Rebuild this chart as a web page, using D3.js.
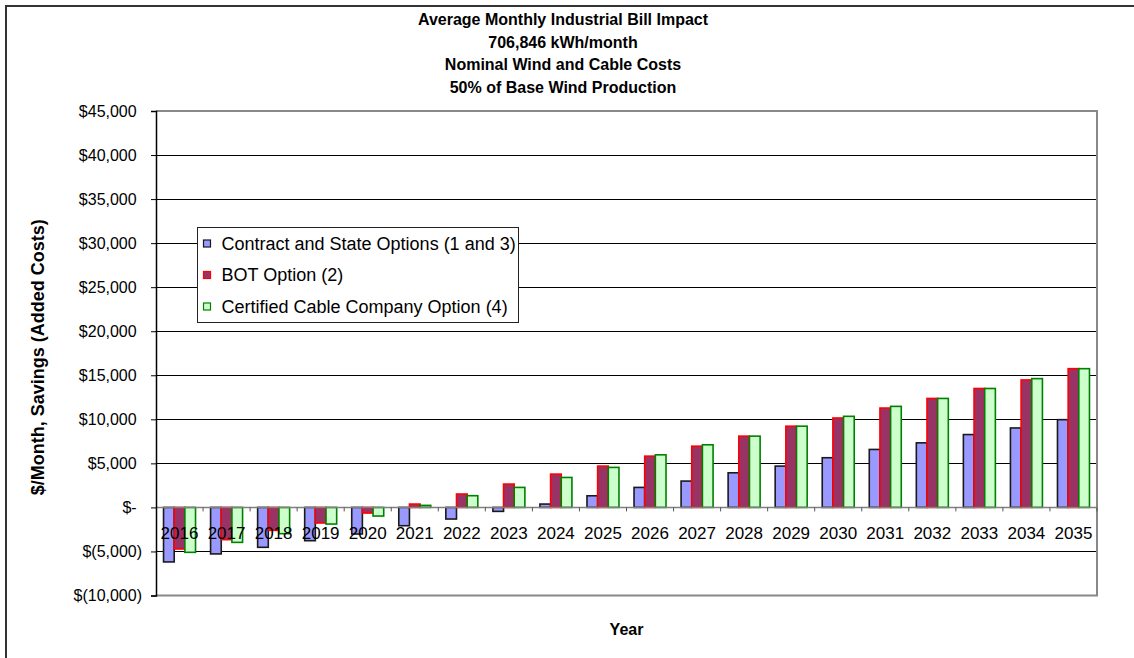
<!DOCTYPE html>
<html>
<head>
<meta charset="utf-8">
<script src="https://cdn.jsdelivr.net/npm/d3@7"></script>
<style>
  body { margin: 0; background: #fff; }
  text { font-family: "Liberation Sans", Arial, sans-serif; }
</style>
</head>
<body>
<div id="chart"></div>
<script>
// Chart data
var years = ["2016","2017","2018","2019","2020","2021","2022","2023","2024","2025",
             "2026","2027","2028","2029","2030","2031","2032","2033","2034","2035"];
var seriesNames = ["Contract and State Options (1 and 3)", "BOT Option (2)", "Certified Cable Company Option (4)"];
var contractState = [-6190,-5280,-4530,-3780,-3020,-2080,-1320,-450,380,1320,
                     2270,2990,3930,4690,5640,6580,7330,8270,9020,9960];
var botOption = [-4720,-3660,-2610,-1770,-640,380,1520,2650,3780,4690,
                 5820,6950,8090,9220,10150,11280,12370,13500,14470,15750];
var cableCompany = [-5100,-3970,-2980,-1890,-980,230,1330,2270,3400,4540,
                    5970,7110,8090,9220,10340,11470,12370,13500,14620,15750];
var yTicks = [-10000,-5000,0,5000,10000,15000,20000,25000,30000,35000,40000,45000];
var titleLines = ["Average Monthly Industrial Bill Impact", "706,846 kWh/month",
                  "Nominal Wind and Cable Costs", "50% of Base Wind Production"];

var fills = ["#9999ff", "#993366", "#ccffcc"];
var strokes = ["#1a1a1a", "#ff0000", "#008000"];
var allSeries = [contractState, botOption, cableCompany];

var width = 1134, height = 658;
var plot = {left: 156, right: 1097, top: 111, bottom: 595.5};

var svg = d3.select("#chart").append("svg")
    .attr("width", width)
    .attr("height", height);

// outer frame (only top and left visible)
svg.append("path")
    .attr("d", "M6,658V6H1134")
    .attr("fill", "none")
    .attr("stroke", "#333")
    .attr("stroke-width", 2);

var x0 = d3.scaleBand()
    .domain(years)
    .range([plot.left, plot.right])
    .paddingInner(0.32)
    .paddingOuter(0.16);

var x1 = d3.scaleBand()
    .domain(d3.range(seriesNames.length))
    .range([0, x0.bandwidth()]);

var y = d3.scaleLinear()
    .domain([-10000, 45000])
    .range([plot.bottom, plot.top]);

// title
svg.append("g").selectAll("text")
    .data(titleLines)
    .enter().append("text")
    .attr("x", 563)
    .attr("y", function (d, i) { return 25 + i * 22.6; })
    .attr("text-anchor", "middle")
    .style("font-size", "16px")
    .style("font-weight", "bold")
    .text(function (d) { return d; });

// gridlines
svg.append("g").selectAll("line")
    .data(yTicks.filter(function (d) { return d !== 0 && d !== -10000 && d !== 45000; }))
    .enter().append("line")
    .attr("x1", plot.left).attr("x2", plot.right)
    .attr("y1", function (d) { return Math.round(y(d)) + 0.5; })
    .attr("y2", function (d) { return Math.round(y(d)) + 0.5; })
    .attr("stroke", "#000")
    .attr("stroke-width", 1);

// plot area border (top, right, bottom)
svg.append("path")
    .attr("d", "M" + plot.left + "," + y(45000) + "H" + plot.right + "V" + y(-10000) + "H" + plot.left)
    .attr("fill", "none")
    .attr("stroke", "#888")
    .attr("stroke-width", 2);

// bars
var groups = svg.append("g").selectAll("g")
    .data(years)
    .enter().append("g")
    .attr("transform", function (d) { return "translate(" + x0(d) + ",0)"; });

groups.selectAll("rect")
    .data(function (d, i) { return allSeries.map(function (s, k) { return {k: k, v: s[i]}; }); })
    .enter().append("rect")
    .attr("x", function (d) { return x1(d.k); })
    .attr("width", x1.bandwidth())
    .attr("y", function (d) { return y(Math.max(0, d.v)); })
    .attr("height", function (d) { return Math.abs(y(d.v) - y(0)); })
    .attr("fill", function (d) { return fills[d.k]; })
    .attr("stroke", function (d) { return strokes[d.k]; })
    .attr("stroke-width", 1.6);

// x axis at zero
var xAxis = svg.append("g");
xAxis.append("line")
    .attr("x1", plot.left).attr("x2", plot.right)
    .attr("y1", y(0)).attr("y2", y(0))
    .attr("stroke", "#808080")
    .attr("stroke-width", 1.5);
var step = x0.step();
xAxis.selectAll(".tick")
    .data(years)
    .enter().append("line")
    .attr("class", "tick")
    .attr("x1", function (d) { return x0(d) - step * 0.16 + step; })
    .attr("x2", function (d) { return x0(d) - step * 0.16 + step; })
    .attr("y1", y(0)).attr("y2", y(0) + 4)
    .attr("stroke", "#555");
xAxis.selectAll(".yr")
    .data(years)
    .enter().append("text")
    .attr("class", "yr")
    .attr("x", function (d) { return x0(d) + x0.bandwidth() / 2; })
    .attr("y", y(0) + 32)
    .attr("text-anchor", "middle")
    .style("font-size", "17px")
    .text(function (d) { return d; });

// y axis
var yAxis = d3.axisLeft(y)
    .tickValues(yTicks)
    .tickSize(5)
    .tickFormat(function (d) {
        if (d === 0) return "$-";
        var s = d3.format(",")(Math.abs(d));
        return d < 0 ? "$(" + s + ")" : "$" + s;
    });
var gy = svg.append("g")
    .attr("transform", "translate(" + plot.left + ",0)")
    .call(yAxis);
gy.select(".domain").attr("stroke", "#000").attr("stroke-width", 1.5);
gy.selectAll(".tick line").attr("stroke", "#000");
gy.selectAll(".tick text")
    .attr("x", -14)
    .style("font-size", "16px")
    .style("font-family", "Liberation Sans, Arial, sans-serif")
    .attr("fill", "#000")
    .each(function (d) {
        if (d >= 0) d3.select(this).append("tspan").attr("fill-opacity", 0).text(")");
    });

// axis titles
svg.append("text")
    .attr("transform", "translate(44," + ((plot.top + plot.bottom) / 2 + 4) + ") rotate(-90)")
    .attr("text-anchor", "middle")
    .style("font-size", "18px")
    .style("font-weight", "bold")
    .text("$/Month, Savings (Added Costs)");

svg.append("text")
    .attr("x", (plot.left + plot.right) / 2)
    .attr("y", 635)
    .attr("text-anchor", "middle")
    .style("font-size", "16px")
    .style("font-weight", "bold")
    .text("Year");

// legend
var legend = svg.append("g").attr("transform", "translate(197.5,227.5)");
legend.append("rect")
    .attr("width", 321).attr("height", 95)
    .attr("fill", "#fff")
    .attr("stroke", "#222");
var items = legend.selectAll(".item")
    .data(seriesNames)
    .enter().append("g")
    .attr("class", "item")
    .attr("transform", function (d, i) { return "translate(0," + (16 + i * 31.5) + ")"; });
items.append("rect")
    .attr("x", 6).attr("y", -3.5)
    .attr("width", 7).attr("height", 7)
    .attr("fill", function (d, i) { return fills[i]; })
    .attr("stroke", function (d, i) { return strokes[i]; })
    .attr("stroke-width", 1.2);
items.append("text")
    .attr("x", 24)
    .attr("dy", "0.35em")
    .style("font-size", "18px")
    .text(function (d) { return d; });
</script>
</body>
</html>
